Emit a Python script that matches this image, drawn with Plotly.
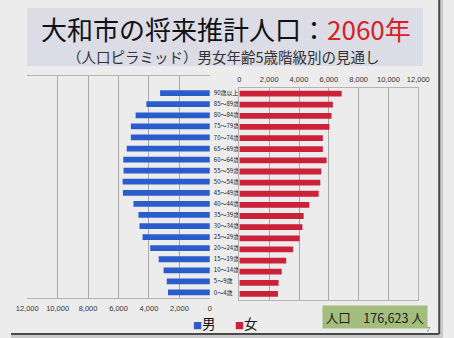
import plotly.graph_objects as go

W, H = 454, 338

age_groups = ["0～4歳", "5～9歳", "10～14歳", "15～19歳", "20～24歳", "25～29歳",
              "30～34歳", "35～39歳", "40～44歳", "45～49歳", "50～54歳", "55～59歳",
              "60～64歳", "65～69歳", "70～74歳", "75～79歳", "80～84歳", "85～89歳",
              "90歳以上"]
male = [2750, 2830, 3040, 3360, 3920, 4420, 4625, 4690, 5020, 5710, 5730, 5670,
        5690, 5460, 5190, 5190, 4875, 4170, 3270]
female = [2590, 2630, 2840, 3140, 3600, 4040, 4230, 4310, 4690, 5320, 5430, 5490,
          5850, 5600, 5600, 6040, 6180, 6270, 6860]
tick_vals = [0, 2000, 4000, 6000, 8000, 10000, 12000]
tick_text = ["0", "2,000", "4,000", "6,000", "8,000", "10,000", "12,000"]
total_label = "人口　176,623 人"

FONT = "Noto Sans CJK JP"
BLUE = "#2b5ccc"
RED = "#cc2139"

def px(x):
    return x / W

def py(y):
    return 1 - y / H

fig = go.Figure()
fig.add_trace(go.Bar(y=age_groups, x=male, orientation="h", marker=dict(color=BLUE, line=dict(width=0)),
                     width=0.52, xaxis="x", yaxis="y", name="男", showlegend=False))
fig.add_trace(go.Bar(y=age_groups, x=female, orientation="h", marker=dict(color=RED, line=dict(width=0)),
                     width=0.52, xaxis="x2", yaxis="y2", name="女", showlegend=False))

axis_common = dict(tickvals=tick_vals, ticktext=tick_text, showgrid=True, gridcolor="#a9a9a9",
                   gridwidth=1, zeroline=False, showline=True, linecolor="#b4b4b4", linewidth=1,
                   mirror=True, ticks="", tickfont=dict(size=7.5, color="#333", family="Liberation Sans"))

fig.update_layout(
    width=W, height=H,
    margin=dict(l=0, r=0, t=0, b=0),
    paper_bgcolor="#ececec",
    plot_bgcolor="rgba(0,0,0,0)",
    font=dict(family=FONT),
    xaxis=dict(domain=[px(17), px(209)], range=[12000, 0], anchor="y", side="bottom",
               ticklabelstandoff=3, **axis_common),
    yaxis=dict(domain=[py(298), py(76)], type="category", categoryorder="array", categoryarray=age_groups,
               range=[-0.5, 19.55], side="right", anchor="x", showgrid=False, zeroline=False,
               showline=False, ticks="", ticklabelstandoff=3,
               tickfont=dict(size=6, color="#222", family=FONT)),
    xaxis2=dict(domain=[px(240), px(428)], range=[0, 12000], anchor="y2", side="top",
                ticklabelstandoff=2, **axis_common),
    yaxis2=dict(domain=[py(299.5), py(88)], type="category", categoryorder="array", categoryarray=age_groups,
                range=[-0.5, 18.5], anchor="x2", showgrid=False, zeroline=False, showticklabels=False,
                showline=True, linecolor="#b4b4b4", mirror=True, ticks=""),
)

shapes = [
    dict(type="rect", xref="paper", yref="paper", x0=px(17), x1=px(433), y0=py(66), y1=py(8),
         fillcolor="#dcdce7", line=dict(width=0), layer="below"),
    dict(type="rect", xref="paper", yref="paper", x0=px(450), x1=1, y0=0, y1=1,
         fillcolor="#c9c9c9", line=dict(width=0), layer="below"),
    dict(type="rect", xref="paper", yref="paper", x0=0, x1=1, y0=0, y1=py(334),
         fillcolor="#c9c9c9", line=dict(width=0), layer="below"),
    dict(type="line", xref="paper", yref="paper", x0=px(450), x1=px(450), y0=py(334), y1=1,
         line=dict(color="#4a4a4a", width=2)),
    dict(type="line", xref="paper", yref="paper", x0=0, x1=px(450), y0=py(334), y1=py(334),
         line=dict(color="#4a4a4a", width=2)),
]
fig.update_layout(shapes=shapes)

ann = [
    dict(x=px(226), y=py(28.5), text="大和市の将来推計人口：<span style='color:#d82222'>2060年</span>",
         font=dict(size=26, color="#111", family=FONT)),
    dict(x=px(223), y=py(57), text="（人口ピラミッド）男女年齢5歳階級別の見通し",
         font=dict(size=14.5, color="#333", family=FONT)),
    dict(x=px(203), y=py(323), text=f"<span style='color:{BLUE};font-size:9px'>■</span>男",
         font=dict(size=13.5, color="#111", family=FONT)),
    dict(x=px(248), y=py(323), text=f"<span style='color:{RED};font-size:9px'>■</span>女",
         font=dict(size=13.5, color="#111", family=FONT)),
    dict(x=px(383), y=py(316.5), text=total_label, bgcolor="#a2bd7c", borderpad=3,
         width=98, height=16, font=dict(size=12.5, color="#222", family=FONT)),
    dict(x=px(439), y=py(329), text="7", font=dict(size=8, color="#777", family="Liberation Sans")),
]
for a in ann:
    a.update(xref="paper", yref="paper", showarrow=False, xanchor="center", yanchor="middle")
fig.update_layout(annotations=ann)

fig.write_html("out.html")
